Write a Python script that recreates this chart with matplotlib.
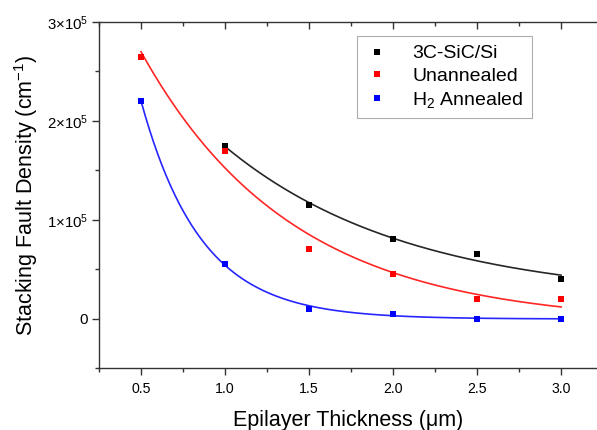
import numpy as np
import matplotlib
matplotlib.use("Agg")
import matplotlib.pyplot as plt
from matplotlib.ticker import MultipleLocator, FuncFormatter

plt.rcParams['font.family'] = ['Liberation Sans', 'DejaVu Sans']
plt.rcParams['mathtext.fontset'] = 'custom'
plt.rcParams['mathtext.rm'] = 'Liberation Sans'
plt.rcParams['mathtext.it'] = 'Liberation Sans:italic'
plt.rcParams['mathtext.bf'] = 'Liberation Sans:bold'

# data
x_sic = [1.0, 1.5, 2.0, 2.5, 3.0]
y_sic = [1.75e5, 1.15e5, 0.80e5, 0.65e5, 0.40e5]
x_un = [0.5, 1.0, 1.5, 2.0, 2.5, 3.0]
y_un = [2.65e5, 1.70e5, 0.70e5, 0.45e5, 0.20e5, 0.20e5]
x_h2 = [0.5, 1.0, 1.5, 2.0, 2.5, 3.0]
y_h2 = [2.20e5, 0.55e5, 0.10e5, 0.05e5, 0.0, 0.0]

labels = ['3C-SiC/Si', 'Unannealed', 'H$_2$ Annealed']
colors = ['black', 'red', 'blue']


def expdec_fit(x, y):
    # y = y0 + A*exp(-x/t), scan t and solve the linear part
    x = np.asarray(x); y = np.asarray(y)
    best = None
    for t in np.linspace(0.05, 5, 2000):
        M = np.column_stack([np.ones_like(x), np.exp(-x / t)])
        coef, *_ = np.linalg.lstsq(M, y, rcond=None)
        err = np.sum((M @ coef - y) ** 2)
        if best is None or err < best[0]:
            best = (err, t, coef)
    _, t, coef = best
    xx = np.linspace(x.min(), x.max(), 200)
    return xx, coef[0] + coef[1] * np.exp(-xx / t)


fig = plt.figure(figsize=(5.97, 4.30), dpi=100)
ax = fig.add_axes([99 / 597, 62 / 430, 498 / 597, 346 / 430])

for xs, ys, lab, c in zip([x_sic, x_un, x_h2], [y_sic, y_un, y_h2], labels, colors):
    xx, yy = expdec_fit(xs, ys)
    ax.plot(xx, yy, color=c, lw=1.2, alpha=0.85)
    ax.plot(xs, ys, 's', color=c, ms=5, mew=0, label=lab)

ax.set_xlim(0.25, 3.214)
ax.set_ylim(-0.5e5, 3e5)
ax.xaxis.set_major_locator(MultipleLocator(0.5))
ax.xaxis.set_minor_locator(MultipleLocator(0.25))
ax.yaxis.set_major_locator(MultipleLocator(1e5))
ax.yaxis.set_minor_locator(MultipleLocator(0.5e5))
ax.xaxis.set_major_formatter(FuncFormatter(lambda v, p: f"{v:.1f}"))


def yfmt(v, p):
    n = int(round(v / 1e5))
    if n == 0:
        return "0"
    return r"$%d{\times}10^{5}$" % n


ax.yaxis.set_major_formatter(FuncFormatter(yfmt))

ax.spines['right'].set_visible(False)
for s in ['left', 'bottom', 'top']:
    ax.spines[s].set_linewidth(1.0)
    ax.spines[s].set_color('#333333')

ax.tick_params(axis='both', which='major', length=5, width=1, color='#333333')
ax.tick_params(axis='both', which='minor', length=3, width=1, color='#333333')
ax.tick_params(axis='x', which='major', labelsize=10.2, pad=5)
ax.tick_params(axis='y', which='major', labelsize=10.8, pad=3)
ax.tick_params(axis='x', which='both', top=True, direction='out')
# top ticks point inward
for t in ax.xaxis.get_major_ticks() + ax.xaxis.get_minor_ticks():
    t.tick2line.set_marker(3)

ax.set_xlabel('Epilayer Thickness (\u03bcm)', fontsize=15.5, labelpad=10)
ax.set_ylabel('Stacking Fault Density (cm$^{-1}$)', fontsize=15.5, labelpad=5)

leg = ax.legend(loc='upper left', bbox_to_anchor=(357 / 597, 1 - 36 / 430),
                bbox_transform=fig.transFigure, fontsize=14, frameon=True,
                fancybox=False, edgecolor='#999999', handlelength=1.2,
                handletextpad=1.2, borderpad=0.45, labelspacing=0.25,
                markerscale=1.0, borderaxespad=0)
leg.get_frame().set_linewidth(0.8)

fig.savefig('out.png', dpi=100)
